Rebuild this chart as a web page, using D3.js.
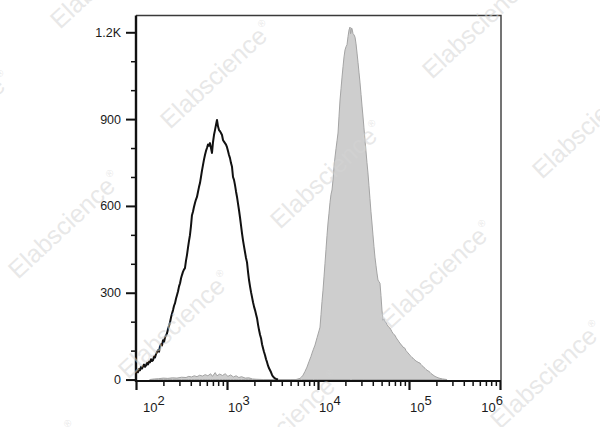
<!DOCTYPE html>
<html><head><meta charset="utf-8">
<script src="https://cdn.jsdelivr.net/npm/d3@7"></script>
<style>html,body{margin:0;padding:0;background:#fff;}svg{display:block;}</style>
</head><body>
<svg id="chart" width="600" height="427"></svg>
<script>
// ---- data (log10 fluorescence intensity, event count) ----
const ctrlLog = [2.000,2.011,2.022,2.033,2.044,2.055,2.066,2.077,2.088,2.099,2.110,2.121,2.132,2.143,2.154,2.165,2.176,2.187,2.198,2.209,2.220,2.231,2.242,2.253,2.264,2.275,2.286,2.297,2.308,2.319,2.330,2.341,2.352,2.363,2.374,2.385,2.396,2.407,2.418,2.429,2.440,2.451,2.462,2.473,2.484,2.495,2.505,2.516,2.527,2.538,2.549,2.560,2.571,2.582,2.593,2.604,2.615,2.626,2.637,2.648,2.659,2.670,2.681,2.692,2.703,2.714,2.725,2.736,2.747,2.758,2.769,2.780,2.791,2.802,2.813,2.824,2.835,2.846,2.857,2.868,2.879,2.890,2.901,2.912,2.923,2.934,2.945,2.956,2.967,2.978,2.989,3.000,3.011,3.022,3.033,3.044,3.055,3.066,3.077,3.088,3.099,3.110,3.121,3.132,3.143,3.154,3.165,3.176,3.187,3.198,3.209,3.220,3.231,3.242,3.253,3.264,3.275,3.286,3.297,3.308,3.319,3.330,3.341,3.352,3.363,3.374,3.385,3.396,3.407,3.418,3.429,3.440,3.451,3.462,3.473,3.484,3.495,3.505,3.516,3.527,3.540,3.560];
const ctrlCount = [39,30,25,36,32,44,38,46,52,44,49,58,52,62,60,70,64,67,80,76,88,95,101,96,115,122,118,136,130,146,152,160,175,186,198,215,228,240,255,264,280,292,305,322,333,350,361,372,380,385,410,430,455,478,499,530,568,580,596,610,622,631,648,665,679,700,722,741,760,776,790,800,812,808,817,800,783,820,845,862,880,897,875,862,858,852,845,828,822,817,812,803,790,776,765,748,735,700,690,672,650,631,608,585,560,533,505,481,460,440,420,405,372,344,322,302,285,267,252,240,226,212,190,171,155,143,122,108,95,84,70,60,48,39,32,25,16,11,7,4,2,0];

const sampleLog = [2.15,2.20,2.25,2.30,2.35,2.40,2.45,2.50,2.55,2.58,2.61,2.64,2.67,2.70,2.73,2.76,2.79,2.82,2.84,2.87,2.89,2.92,2.95,2.98,3.01,3.04,3.07,3.10,3.13,3.16,3.20,3.24,3.28,3.32,3.40,3.70,
3.758,3.780,3.802,3.820,3.835,3.857,3.879,3.901,3.923,3.934,3.950,3.967,3.990,4.011,4.022,4.033,4.044,4.055,4.066,4.077,4.088,4.099,4.110,4.121,4.132,4.143,4.154,4.165,4.176,4.187,4.198,4.209,4.220,4.231,4.242,4.253,4.264,4.275,4.286,4.297,4.308,4.319,4.330,4.341,4.352,4.358,4.363,4.368,4.374,4.385,4.396,4.407,4.418,4.429,4.440,4.451,4.462,4.473,4.484,4.495,4.505,4.516,4.527,4.538,4.549,4.560,4.571,4.582,4.593,4.604,4.615,4.626,4.637,4.648,4.659,4.670,4.681,4.692,4.703,4.714,4.725,4.736,4.747,4.758,4.769,4.780,4.791,4.802,4.813,4.824,4.835,4.846,4.857,4.868,4.879,4.890,4.901,4.912,4.923,4.934,4.945,4.956,4.967,4.978,4.989,5.000,5.011,5.022,5.033,5.044,5.055,5.066,5.077,5.088,5.099,5.110,5.121,5.132,5.143,5.154,5.165,5.176,5.187,5.198,5.209,5.220,5.231,5.242,5.253,5.264,5.275,5.286,5.297,5.308,5.319,5.330,5.341,5.370,5.418];
const sampleCount = [0,2,3,5,4,6,5,8,7,11,9,13,10,15,12,17,13,20,11,24,13,19,14,20,11,16,9,13,7,10,5,6,2,1,0,0,
0,2,4,9,15,28,43,62,80,91,105,119,145,168,181,225,270,309,355,402,450,498,541,575,612,640,655,690,735,769,798,825,852,910,966,1005,1045,1081,1115,1139,1150,1157,1185,1208,1218,1195,1201,1215,1212,1195,1191,1183,1160,1128,1095,1060,1025,985,945,907,870,828,790,750,714,670,625,580,541,500,460,423,395,368,344,338,333,290,240,205,210,200,198,190,185,180,178,172,165,160,155,153,146,140,136,130,126,120,118,112,110,108,100,96,92,88,84,80,76,74,70,67,64,62,60,58,57,52,48,45,42,39,35,32,30,28,25,21,18,16,13,11,9,8,6,5,4,2,0];

const yTicks = [0, 300, 600, 900, 1200];
const yTickLabels = ["0", "300", "600", "900", "1.2K"];
const yMinorTicks = [100, 200, 400, 500, 700, 800, 1000, 1100];
const xTickExps = [2, 3, 4, 5, 6];
const watermarkText = "Elabscience";

// ---- layout ----
const svg = d3.select("#chart");
const L = 136, R = 501, T = 15.5, B = 381;
const font = "'Liberation Sans', Arial, Helvetica, sans-serif";

const x = d3.scaleLog().domain([1e2, 1e6]).range([L, 500]);
const y = d3.scaleLinear().domain([-5, 1258]).range([B, T]);

const ctrl = ctrlLog.map((l, i) => ({v: Math.pow(10, l), c: ctrlCount[i]}));
const sample = sampleLog.map((l, i) => ({v: Math.pow(10, l), c: sampleCount[i]}));

// sample (filled grey)
svg.append("path").datum(sample)
  .attr("d", d3.area().x(d => x(d.v)).y0(y(0)).y1(d => y(d.c)))
  .attr("fill", "#cecece").attr("stroke", "#a4a4a4").attr("stroke-width", 1);

// control (black line)
svg.append("path").datum(ctrl)
  .attr("d", d3.line().x(d => x(d.v)).y(d => y(d.c)))
  .attr("fill", "none").attr("stroke", "#111").attr("stroke-width", 2)
  .attr("stroke-linejoin", "round");

// frame top & right
svg.append("path").attr("d", `M${L},${T}H${R}V${B}`)
  .attr("fill", "none").attr("stroke", "#3a3a3a").attr("stroke-width", 1.4);

// y axis
const yMajor = svg.append("g").attr("transform", `translate(${L},0)`)
  .call(d3.axisLeft(y).tickValues(yTicks).tickSize(10).tickPadding(5)
    .tickFormat((d, i) => yTickLabels[i]));
yMajor.select(".domain").remove();
yMajor.selectAll("line").attr("stroke", "#111").attr("stroke-width", 2);
yMajor.selectAll("text").attr("font-family", font).attr("font-size", 12.5).attr("fill", "#1a1a1a");

const yMinor = svg.append("g").attr("transform", `translate(${L},0)`)
  .call(d3.axisLeft(y).tickValues(yMinorTicks).tickSize(5).tickFormat(""));
yMinor.select(".domain").remove();
yMinor.selectAll("line").attr("stroke", "#111").attr("stroke-width", 1.5);

// x axis
const xMinorVals = [];
for (let e = 2; e < 6; e++) for (let m = 2; m <= 9; m++) xMinorVals.push(m * Math.pow(10, e));
const xMinor = svg.append("g").attr("transform", `translate(0,${B})`)
  .call(d3.axisBottom(x).tickValues(xMinorVals).tickSize(5).tickFormat(""));
xMinor.select(".domain").remove();
xMinor.selectAll("line").attr("stroke", "#111").attr("stroke-width", 1.5);

const xMajor = svg.append("g").attr("transform", `translate(0,${B})`)
  .call(d3.axisBottom(x).tickValues(xTickExps.map(e => Math.pow(10, e))).tickSize(9).tickFormat(""));
xMajor.select(".domain").remove();
xMajor.selectAll("line").attr("stroke", "#111").attr("stroke-width", 2.2);

const xl = svg.append("g").attr("font-family", font).attr("font-size", 13).attr("fill", "#1a1a1a");
xTickExps.forEach((e, i) => {
  const px = x(Math.pow(10, e));
  const last = i === xTickExps.length - 1;
  const t = xl.append("text")
    .attr("x", i === 0 ? px + 7 : (last ? px + 3 : px + 1))
    .attr("y", 412)
    .attr("text-anchor", last ? "end" : "start");
  t.append("tspan").text("10");
  t.append("tspan").attr("dy", -7).text(String(e));
});

// axis lines (thick)
svg.append("line").attr("x1", L).attr("x2", L).attr("y1", T).attr("y2", B + 1)
  .attr("stroke", "#111").attr("stroke-width", 2.4);
svg.append("line").attr("x1", L - 1).attr("x2", R).attr("y1", B).attr("y2", B)
  .attr("stroke", "#111").attr("stroke-width", 2.2);

// watermarks
const wm = svg.append("g").attr("font-family", font).attr("font-size", 25)
  .attr("fill", "#d4d4d4").attr("fill-opacity", 0.55);
for (let i = -3; i <= 3; i++) {
  for (let j = -2; j <= 3; j++) {
    const sx = 170 + i * 110 + j * 262;
    const sy = 130 + i * 100 - j * 50;
    if (sx < -200 || sx > 620 || sy < -20 || sy > 600) continue;
    const t = wm.append("text").attr("transform", `translate(${sx},${sy}) rotate(-43)`);
    t.append("tspan").text(watermarkText);
    t.append("tspan").attr("font-size", 10).attr("dy", -12).attr("dx", 1).text("®");
  }
}
</script>
</body></html>
